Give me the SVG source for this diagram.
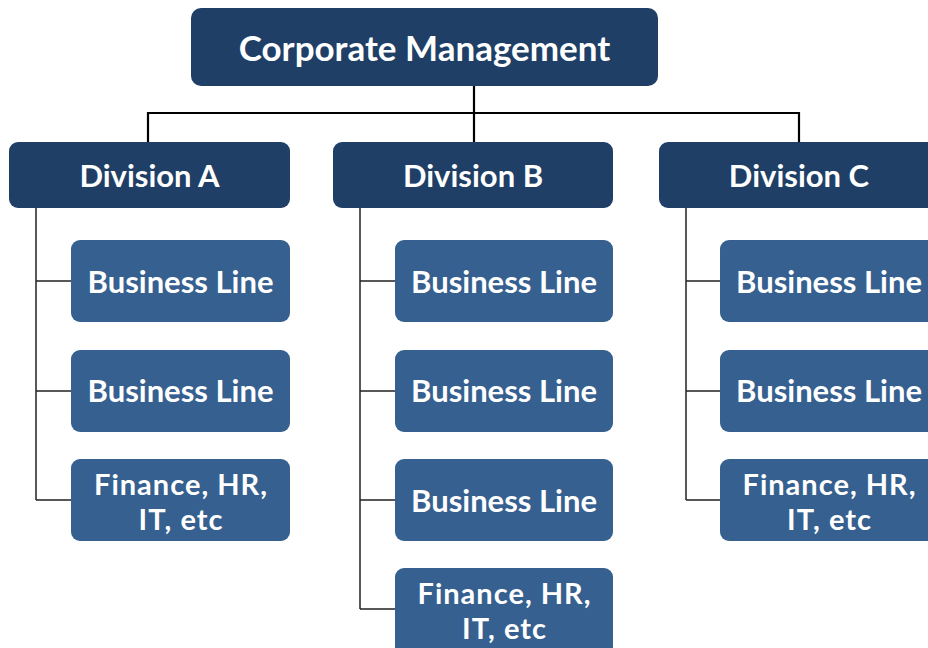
<svg xmlns="http://www.w3.org/2000/svg" width="928" height="648" viewBox="0 0 928 648">
<style>
.top{fill:#203f67}
.div{fill:#203f67}
.bl{fill:#36608f}
text{font-family:"Lato","Noto Sans","Liberation Sans",sans-serif;font-weight:700;fill:#fff;text-anchor:middle}
.t1{font-size:35px}
.t2{font-size:31px}
.t3{font-size:31px}
.t4{font-size:29px;letter-spacing:1px}
.c1{stroke:#000;stroke-width:2.2;fill:none}
.c2{stroke:#222;stroke-width:1.5;fill:none}
</style>
<rect width="928" height="648" fill="#fff"/>
<g id="connectors">
<path class="c1" d="M474 86V142M148 113H799M148 112V142M799 112V142"/>
<path class="c2" d="M36 208V500M36 281H71M36 391H71M36 500H71"/>
<path class="c2" d="M360 208V609M360 281H395M360 391H395M360 500H395M360 609H395"/>
<path class="c2" d="M686 208V500M686 281H720M686 391H720M686 500H720"/>
</g>
<g id="corporate"><rect class="top" x="191" y="8" width="467" height="78" rx="10"/><text class="t1" x="424.5" y="61">Corporate Management</text></g>
<g id="divA"><rect class="div" x="9" y="142" width="281" height="66" rx="9"/><text class="t2" x="149.5" y="187">Division A</text></g>
<g id="divB"><rect class="div" x="333" y="142" width="280" height="66" rx="9"/><text class="t2" x="473" y="187">Division B</text></g>
<g id="divC"><rect class="div" x="659" y="142" width="280" height="66" rx="9"/><text class="t2" x="799" y="187">Division C</text></g>
<g id="a1"><rect class="bl" x="71" y="240" width="219" height="82" rx="9"/><text class="t3" x="180.5" y="293">Business Line</text></g>
<g id="a2"><rect class="bl" x="71" y="350" width="219" height="82" rx="9"/><text class="t3" x="180.5" y="402">Business Line</text></g>
<g id="a3"><rect class="bl" x="71" y="459" width="219" height="82" rx="9"/><text class="t4" x="181" y="495">Finance, HR,</text><text class="t4" x="181" y="530">IT, etc</text></g>
<g id="b1"><rect class="bl" x="395" y="240" width="218" height="82" rx="9"/><text class="t3" x="504" y="293">Business Line</text></g>
<g id="b2"><rect class="bl" x="395" y="350" width="218" height="82" rx="9"/><text class="t3" x="504" y="402">Business Line</text></g>
<g id="b3"><rect class="bl" x="395" y="459" width="218" height="82" rx="9"/><text class="t3" x="504" y="512">Business Line</text></g>
<g id="b4"><rect class="bl" x="395" y="568" width="218" height="90" rx="9"/><text class="t4" x="504.5" y="604">Finance, HR,</text><text class="t4" x="504.5" y="639">IT, etc</text></g>
<g id="c1"><rect class="bl" x="720" y="240" width="218" height="82" rx="9"/><text class="t3" x="829" y="293">Business Line</text></g>
<g id="c2"><rect class="bl" x="720" y="350" width="218" height="82" rx="9"/><text class="t3" x="829" y="402">Business Line</text></g>
<g id="c3"><rect class="bl" x="720" y="459" width="218" height="82" rx="9"/><text class="t4" x="829.5" y="495">Finance, HR,</text><text class="t4" x="829.5" y="530">IT, etc</text></g>
</svg>
